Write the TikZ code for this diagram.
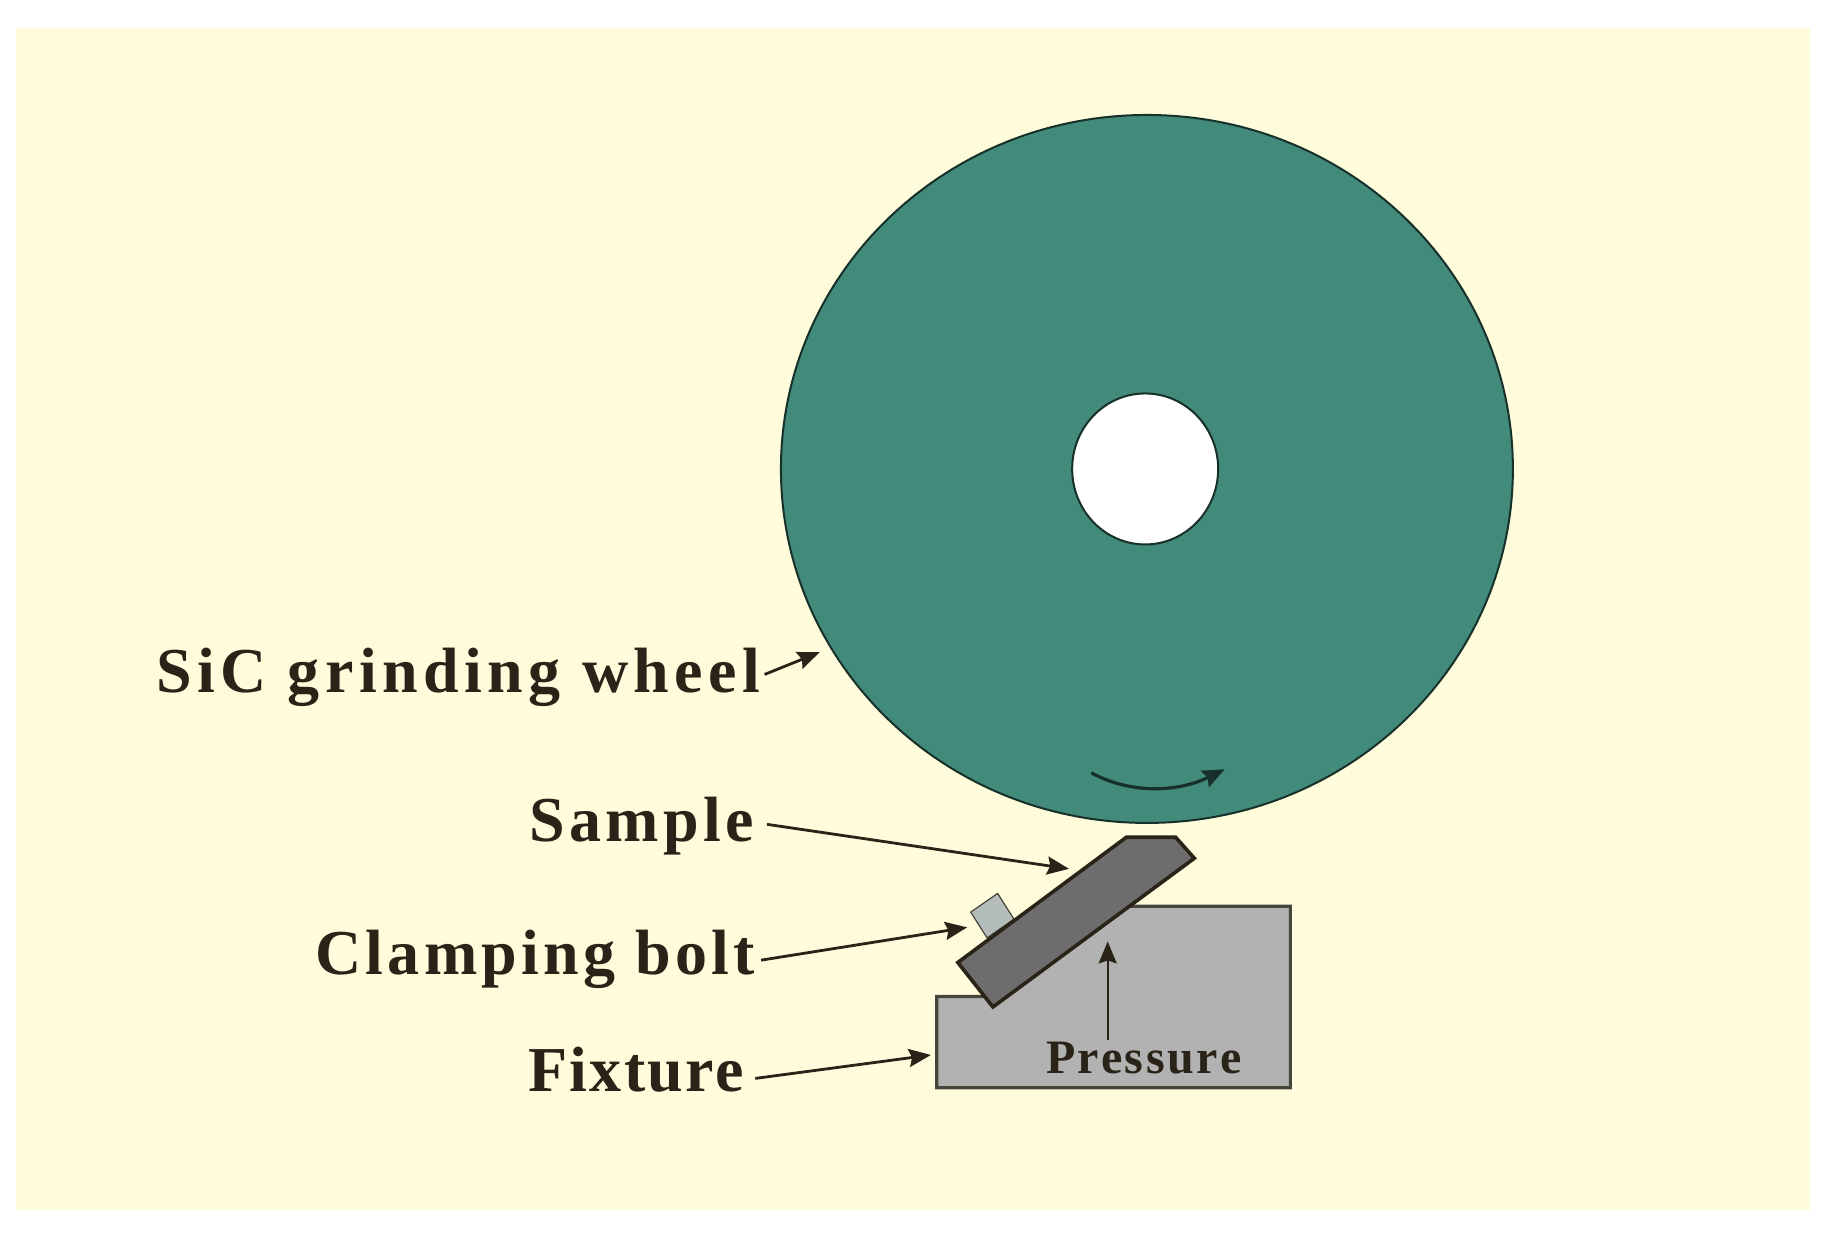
\documentclass[tikz,border=0pt]{standalone}
\usepackage{fontspec}
\setmainfont{Liberation Serif}
\usetikzlibrary{arrows.meta,shapes.geometric}
\definecolor{paper}{HTML}{FFFCDC}
\definecolor{wheelc}{HTML}{428A7A}
\definecolor{ink}{HTML}{2A2418}
\definecolor{edge}{HTML}{17302A}
\definecolor{fix}{HTML}{B2B2B2}
\definecolor{fixedge}{HTML}{45453C}
\definecolor{samp}{HTML}{6D6D6D}
\definecolor{boltc}{HTML}{B5BCBC}
\newfontfamily\laba[LetterSpace=8.5]{Liberation Serif Bold}
\newfontfamily\labb[LetterSpace=6.6]{Liberation Serif Bold}
\newfontfamily\labc[LetterSpace=6.6]{Liberation Serif Bold}
\newfontfamily\labd[LetterSpace=3.6]{Liberation Serif Bold}
\newfontfamily\labs[LetterSpace=5.5]{Liberation Serif Bold}
\tikzset{
 lbl/.style={anchor=base west,inner sep=0pt,text=ink,font={#1\fontsize{32}{32}\selectfont}},
 conn/.style={draw=ink,line width=1.4pt,-{Stealth[length=11pt,width=9pt,inset=1.5pt]}},
 disc/.style={ellipse,draw=edge,line width=1pt,inner sep=0pt},
}
\begin{document}
\begin{tikzpicture}[x=0.5855pt,y=-0.5855pt]
\useasboundingbox (0,0) rectangle (1568,1059);
\fill[white] (0,0) rectangle (1568,1059);
\fill[paper] (14,24) rectangle (1546,1033);
% wheel
\node[disc,fill=wheelc,minimum width=366pt,minimum height=354pt] (wheel) at (979.5,400.5) {};
\node[disc,fill=white,minimum width=73pt,minimum height=75.5pt] (hole) at (978,400.5) {};
\coordinate (rotA) at (932,660);
\coordinate (rotB) at (1046,657);
\draw[draw=edge,line width=1.6pt,-{Stealth[length=11pt,width=9pt,inset=1.5pt]}] (rotA) .. controls (965,678) and (1005,677) .. (rotB);
% fixture
\draw[fill=fix,draw=fixedge,line width=1.6pt,line join=miter]
  (800,851) -- (852,851) -- (852,856) -- (960,774) -- (1102,774) -- (1102,929) -- (800,929) -- cycle;
% bolt
\draw[fill=boltc,draw=fixedge,line width=0.6pt] (829,779) -- (852,763) -- (866,785) -- (843,801) -- cycle;
% sample
\draw[fill=samp,draw=ink,line width=1.8pt,line join=miter]
  (962,715) -- (1004,715) -- (1020,733) -- (848,860) -- (818,822) -- cycle;
% labels
\node[lbl=\laba] (wheeltxt) at (133,591) {SiC grinding wheel};
\node[lbl=\labb] (sampletxt) at (452,719) {Sample};
\node[lbl=\labc] (bolttxt) at (269,832) {Clamping bolt};
\node[lbl=\labd] (fixturetxt) at (451,932) {Fixture};
\node[anchor=base west,inner sep=0pt,text=ink,font=\labs\fontsize{24}{24}\selectfont] (presstxt) at (893,917) {Pressure};
% connectors
\coordinate (wheelA) at (653,576); \coordinate (wheelB) at (700,557);
\coordinate (sampleA) at (655,704); \coordinate (sampleB) at (913,742);
\coordinate (boltA) at (650,820); \coordinate (boltB) at (826,792);
\coordinate (fixA) at (645,921); \coordinate (fixB) at (795,901);
\coordinate (pressA) at (946,888); \coordinate (pressB) at (946,804);
\draw[conn] (wheelA) -- (wheelB);
\draw[conn] (sampleA) -- (sampleB);
\draw[conn] (boltA) -- (boltB);
\draw[conn] (fixA) -- (fixB);
\draw[conn,line width=1pt] (pressA) -- (pressB);
\end{tikzpicture}
\end{document}
